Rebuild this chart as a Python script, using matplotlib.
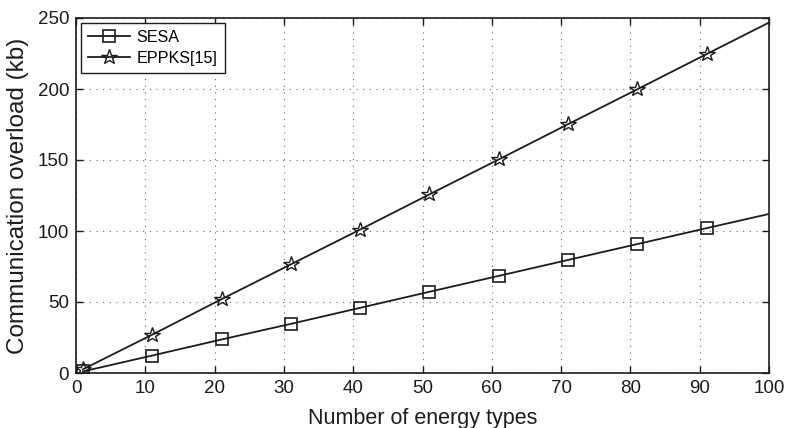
import matplotlib
matplotlib.use("Agg")
import matplotlib.pyplot as plt

plt.rcParams['font.family'] = ['Liberation Sans', 'DejaVu Sans']

x_vals = [1, 11, 21, 31, 41, 51, 61, 71, 81, 91, 100]
sesa = [1.1, 12.3, 23.6, 34.6, 45.9, 57.2, 68.4, 79.6, 90.8, 102.0, 112.0]
eppks = [2.6, 27.0, 52.0, 76.5, 101.0, 125.8, 150.4, 175.2, 199.8, 224.6, 246.8]
series_names = ['SESA', 'EPPKS[15]']
x_ticks = [0, 10, 20, 30, 40, 50, 60, 70, 80, 90, 100]
y_ticks = [0, 50, 100, 150, 200, 250]

fig = plt.figure(figsize=(7.85, 4.28), dpi=100)
ax = fig.add_axes([76/785, 1-373/428, (769-76)/785, (373-18)/428])

ink = '#1c1c1c'
mk = list(range(10))
ax.plot(x_vals, sesa, color=ink, lw=1.3, marker='s', markersize=8.5,
        markerfacecolor='none', markeredgecolor=ink, markeredgewidth=1.2,
        markevery=mk, label=series_names[0])
ax.plot(x_vals, eppks, color=ink, lw=1.3, marker='*', markersize=11.5,
        markerfacecolor='none', markeredgecolor=ink, markeredgewidth=1.0,
        markevery=mk, label=series_names[1])

ax.set_xlim(0, 100)
ax.set_ylim(0, 250)
ax.set_xticks(x_ticks)
ax.set_yticks(y_ticks)
ax.tick_params(direction='in', top=True, right=True, labelsize=13.5, length=5,
               width=1, colors=ink, pad=5)
ax.grid(True, linestyle=(0, (1, 5)), color='#666666', linewidth=0.8)
for s in ax.spines.values():
    s.set_linewidth(1.2)
    s.set_color(ink)

ax.set_xlabel('Number of energy types', fontsize=15.5, color=ink, labelpad=8)
ax.set_ylabel('Communication overload (kb)', fontsize=17.5, color=ink, labelpad=6)

leg = ax.legend(loc='upper left', fontsize=11.6, frameon=True, fancybox=False,
                edgecolor=ink, framealpha=1, borderaxespad=0.3,
                handlelength=2.6, handletextpad=0.4, borderpad=0.45, labelspacing=0.35)
leg.get_frame().set_linewidth(1.0)

fig.savefig('out.png', dpi=100)
